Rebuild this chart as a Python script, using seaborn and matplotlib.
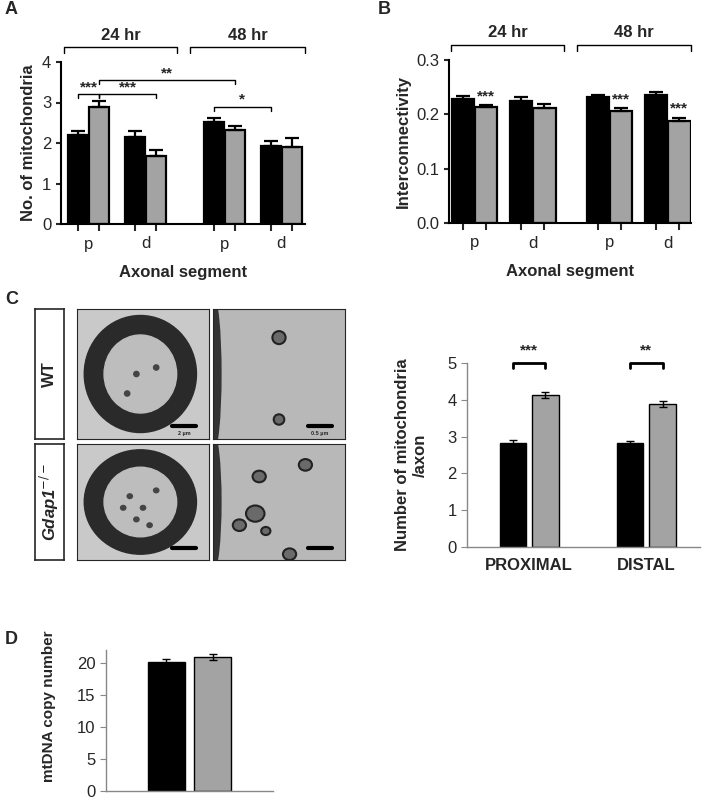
import numpy as np
import pandas as pd
import matplotlib
matplotlib.use("Agg")
import matplotlib.pyplot as plt
import matplotlib.patches as mpatches
import seaborn as sns

sns.set_style("ticks")
plt.rcParams['font.family'] = ['Liberation Sans', 'DejaVu Sans']

# ---- data ----
genotypes = ["WT", "Gdap1-/-"]
a_groups = ["p", "d", "p", "d"]
a_pos = [0.0, 1.0, 2.39, 3.39]
a_wt = [2.2, 2.15, 2.52, 1.92]
a_wt_err = [0.1, 0.15, 0.1, 0.12]
a_ko = [2.9, 1.68, 2.32, 1.9]
a_ko_err = [0.13, 0.15, 0.1, 0.22]

b_pos = [0.0, 1.0, 2.32, 3.32]
b_wt = [0.229, 0.224, 0.231, 0.236]
b_wt_err = [0.004, 0.008, 0.004, 0.006]
b_ko = [0.214, 0.212, 0.207, 0.188]
b_ko_err = [0.003, 0.007, 0.005, 0.006]
b_stars = ["***", "", "***", "***"]

c_groups = ["PROXIMAL", "DISTAL"]
c_wt = [2.83, 2.82]
c_wt_err = [0.08, 0.07]
c_ko = [4.12, 3.88]
c_ko_err = [0.08, 0.08]
c_stars = ["***", "**"]

d_vals = [20.1, 20.9]
d_err = [0.5, 0.5]

BLACK = "#000000"
GRAY = "#a3a3a3"
W, H = 706, 800
fig = plt.figure(figsize=(W / 100, H / 100), dpi=100)


def add_ax(x0, y0, x1, y1):
    return fig.add_axes([x0 / W, 1 - y1 / H, (x1 - x0) / W, (y1 - y0) / H])


def style(ax, lw=1.5, color="black"):
    sns.despine(ax=ax)
    for s in ["left", "bottom"]:
        ax.spines[s].set_linewidth(lw)
        ax.spines[s].set_color(color)


def grouped(ax, pos, wt, ko, width, gap, lw, errs, one_sided, capsize):
    df = pd.DataFrame({
        "pos": list(pos) * 2,
        "val": list(wt) + list(ko),
        "geno": [genotypes[0]] * len(wt) + [genotypes[1]] * len(ko),
    })
    sns.barplot(data=df, x="pos", y="val", hue="geno", native_scale=True,
                palette=[BLACK, GRAY], width=width, gap=gap, ax=ax,
                edgecolor="black", linewidth=lw, legend=False, errorbar=None,
                hue_order=genotypes)
    off = width / 4
    for i, p in enumerate(pos):
        for sgn, v, e in [(-1, wt[i], errs[0][i]), (1, ko[i], errs[1][i])]:
            yerr = [[0], [e]] if one_sided else [[e], [e]]
            ax.errorbar(p + sgn * off, v, yerr=yerr, fmt="none", ecolor="black",
                        elinewidth=lw, capsize=capsize, capthick=lw, zorder=5)


def seg_ticks(ax, pos, labels, width):
    o = width / 4
    ax.set_xticks([p + s * o for p in pos for s in (-1, 1)])
    ax.set_xticklabels([])
    ax.tick_params(axis="x", which="major", width=1.5, length=5)
    ax.set_xticks(pos, minor=True)
    ax.set_xticklabels(labels, minor=True, fontsize=12)
    ax.tick_params(axis="x", which="minor", length=0, pad=9)


def sig(ax, x0, x1, y, txt, h):
    ax.plot([x0, x0, x1, x1], [y - h, y, y, y - h], color="black", lw=1, clip_on=False)
    ax.text((x0 + x1) / 2, y, txt, ha="center", va="bottom", fontsize=11, fontweight="bold")


def period_brackets(ax, xs):
    for (x0, x1, label) in xs:
        ax.plot([x0, x0, x1, x1], [1.055, 1.09, 1.09, 1.055], transform=ax.get_xaxis_transform(),
                color="black", lw=1, clip_on=False)
        ax.text((x0 + x1) / 2, 1.12, label, transform=ax.get_xaxis_transform(),
                ha="center", va="bottom", fontsize=12, fontweight="bold")


# ---------- Panel A ----------
WA = 0.74
axA = add_ax(61, 62, 305, 224)
grouped(axA, a_pos, a_wt, a_ko, WA, 0.04, 1.6, (a_wt_err, a_ko_err), True, 5)
axA.set_xlim(-0.49, 3.81)
axA.set_ylim(0, 4)
axA.set_yticks([0, 1, 2, 3, 4])
seg_ticks(axA, a_pos, a_groups, WA)
axA.tick_params(axis="y", labelsize=12, width=1.5)
axA.set_ylabel("No. of mitochondria", fontsize=12, fontweight="bold")
axA.set_xlabel("Axonal segment", fontsize=12, fontweight="bold", labelpad=10)
style(axA)
o = WA / 4
sig(axA, a_pos[0] - o, a_pos[0] + o, 3.2, "***", 0.1)
sig(axA, a_pos[0] + o, a_pos[1] + o, 3.2, "***", 0.1)
sig(axA, a_pos[0] + o, a_pos[2] + o, 3.55, "**", 0.1)
sig(axA, a_pos[2] - o, a_pos[3] - o, 2.9, "*", 0.1)
period_brackets(axA, [(-0.44, 1.56, "24 hr"), (1.79, 3.81, "48 hr")])
fig.text(5 / W, 1 - 10 / H, "A", fontsize=13, fontweight="bold", va="center")

# ---------- Panel B ----------
WB = 0.8
axB = add_ax(449, 60, 691, 223)
grouped(axB, b_pos, b_wt, b_ko, WB, 0.04, 1.6, (b_wt_err, b_ko_err), True, 5)
axB.set_xlim(-0.44, 3.72)
axB.set_ylim(0, 0.3)
axB.set_yticks([0, 0.1, 0.2, 0.3])
axB.set_yticklabels(["0.0", "0.1", "0.2", "0.3"])
seg_ticks(axB, b_pos, a_groups, WB)
axB.tick_params(axis="y", labelsize=12, width=1.5)
axB.set_ylabel("Interconnectivity", fontsize=12, fontweight="bold")
axB.set_xlabel("Axonal segment", fontsize=12, fontweight="bold", labelpad=10)
style(axB)
ob = WB / 4
for i, s in enumerate(b_stars):
    if s:
        axB.text(b_pos[i] + ob, b_ko[i] + b_ko_err[i] + 0.003, s, ha="center",
                 va="bottom", fontsize=11, fontweight="bold")
period_brackets(axB, [(-0.4, 1.54, "24 hr"), (1.76, 3.72, "48 hr")])
fig.text(378 / W, 1 - 10 / H, "B", fontsize=13, fontweight="bold", va="center")

# ---------- Panel C images (schematic) ----------
fig.text(5 / W, 1 - 300 / H, "C", fontsize=13, fontweight="bold", va="center")
for (y0, y1, lab, it) in [(309, 439, "WT", False), (444, 560, "Gdap1$^{-/-}$", True)]:
    lax = add_ax(35, y0, 64, y1)
    lax.set_xticks([]); lax.set_yticks([])
    for s in lax.spines.values():
        s.set_linewidth(1.2)
    lax.text(0.5, 0.5, lab, rotation=90, ha="center", va="center", fontsize=12,
             fontweight="bold", style="italic" if it else "normal", transform=lax.transAxes)
    im1 = add_ax(77, y0, 209, y1)
    im1.set_facecolor("#c9c9c9")
    im1.set_xlim(0, 1); im1.set_ylim(0, 1)
    im1.add_patch(mpatches.Ellipse((0.48, 0.5), 0.85, 0.9, color="#2a2a2a"))
    im1.add_patch(mpatches.Ellipse((0.48, 0.5), 0.55, 0.6, color="#bdbdbd"))
    dots = [(0.45, 0.5), (0.6, 0.55), (0.38, 0.35)] if not it else \
        [(0.4, 0.55), (0.5, 0.45), (0.6, 0.6), (0.45, 0.35), (0.35, 0.45), (0.55, 0.3)]
    for d in dots:
        im1.add_patch(mpatches.Circle(d, 0.02, color="#444444"))
    im1.set_xticks([]); im1.set_yticks([])
    im1.plot([0.72, 0.9], [0.1, 0.1], color="black", lw=3)
    if not it:
        im1.text(0.81, 0.03, "2 µm", fontsize=4, ha="center", fontweight="bold")
    im2 = add_ax(213, y0, 345, y1)
    im2.set_facecolor("#b8b8b8")
    im2.set_xlim(0, 1); im2.set_ylim(0, 1)
    im2.add_patch(mpatches.Ellipse((0.0, 0.5), 0.12, 1.2, color="#333333"))
    mits = [(0.5, 0.78, 0.05), (0.5, 0.15, 0.04)] if not it else \
        [(0.35, 0.72, 0.05), (0.7, 0.82, 0.05), (0.32, 0.4, 0.07), (0.2, 0.3, 0.05),
         (0.4, 0.25, 0.035), (0.58, 0.05, 0.05)]
    for (cx, cy, r) in mits:
        im2.add_patch(mpatches.Circle((cx, cy), r, facecolor="#6a6a6a", edgecolor="#222222", lw=1.5))
    im2.set_xticks([]); im2.set_yticks([])
    im2.plot([0.72, 0.9], [0.1, 0.1], color="black", lw=3)
    if not it:
        im2.text(0.81, 0.03, "0.5 µm", fontsize=4, ha="center", fontweight="bold")

# ---------- Panel C chart ----------
axC = add_ax(467, 363, 700, 547)
c_pos = [0.0, 1.0]
grouped(axC, c_pos, c_wt, c_ko, 0.56, 0.2, 1.0, (c_wt_err, c_ko_err), False, 3)
axC.set_xlim(-0.53, 1.46)
axC.set_ylim(0, 5)
axC.set_yticks([0, 1, 2, 3, 4, 5])
axC.set_xticks(c_pos)
axC.set_xticklabels(c_groups, fontsize=12, fontweight="bold")
axC.tick_params(axis="x", length=0, pad=8)
axC.tick_params(axis="y", labelsize=12, length=4, color="#888888")
axC.set_ylabel("Number of mitochondria\n/axon", fontsize=12, fontweight="bold", labelpad=14)
axC.set_xlabel("")
style(axC, lw=1.0, color="#888888")
oc = 0.56 / 4
for i, s in enumerate(c_stars):
    axC.plot([c_pos[i] - oc, c_pos[i] - oc, c_pos[i] + oc, c_pos[i] + oc],
             [4.87, 5.0, 5.0, 4.87], color="black", lw=2, clip_on=False)
    axC.text(c_pos[i], 5.15, s, ha="center", va="bottom", fontsize=11, fontweight="bold")

# ---------- Panel D ----------
axD = add_ax(106, 650, 273, 791)
dfD = pd.DataFrame({"geno": genotypes, "val": d_vals})
sns.barplot(data=dfD, x="geno", y="val", hue="geno", palette=[BLACK, GRAY],
            width=0.79, edgecolor="black", linewidth=1.0, legend=False,
            errorbar=None, ax=axD)
axD.errorbar([0, 1], d_vals, yerr=d_err, fmt="none", ecolor="black", elinewidth=1,
             capsize=3, capthick=1, zorder=5)
axD.set_xlim(-1.28, 2.28)
axD.set_ylim(0, 22)
axD.set_yticks([0, 5, 10, 15, 20])
axD.set_xticks([])
axD.set_xlabel("")
axD.tick_params(axis="y", labelsize=12, length=4, color="#888888")
axD.set_ylabel("mtDNA copy number", fontsize=11, fontweight="bold", labelpad=4)
axD.yaxis.set_label_coords(-0.3, 0.6)
style(axD, lw=1.0, color="#888888")
fig.text(5 / W, 1 - 640 / H, "D", fontsize=13, fontweight="bold", va="center")

fig.savefig("out.png", dpi=100)
